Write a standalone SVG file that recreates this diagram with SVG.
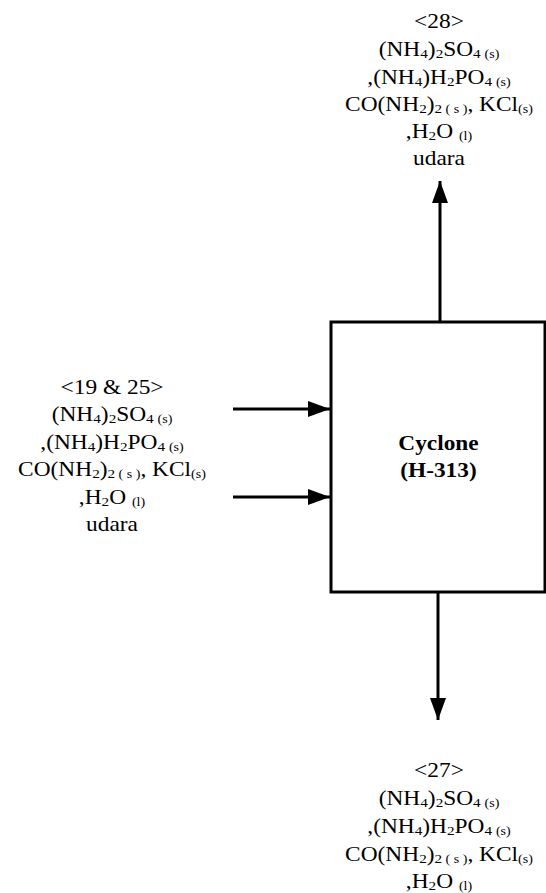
<svg xmlns="http://www.w3.org/2000/svg" width="546" height="893" viewBox="0 0 546 893">
<style>
text{font-family:'Liberation Serif','DejaVu Serif',serif;font-size:20px;fill:#000;text-anchor:middle}
.s{font-size:13px}
.p{font-size:12px}
.b{font-weight:bold;font-size:22px}
.ln{stroke:#000;stroke-width:3;fill:none}
</style>
<defs>
<marker id="ah" markerUnits="userSpaceOnUse" markerWidth="24" markerHeight="18" viewBox="0 0 24 18" refX="22" refY="9" orient="auto">
<path d="M0,1 L22,9 L0,17 Z" fill="#000"/>
</marker>
</defs>
<g id="connectors">
<line class="ln" x1="440" y1="321" x2="440" y2="181" marker-end="url(#ah)"/>
<line class="ln" x1="233" y1="409" x2="330" y2="409" marker-end="url(#ah)"/>
<line class="ln" x1="233" y1="497" x2="330" y2="497" marker-end="url(#ah)"/>
<line class="ln" x1="438" y1="593" x2="438" y2="720" marker-end="url(#ah)"/>
</g>
<g id="cyclone">
<rect x="331" y="322" width="214" height="270" fill="#fff" stroke="#000" stroke-width="3"/>
<g transform="translate(438.5,0) scale(1.06,1)">
<text class="b" x="0" y="450">Cyclone</text>
<text class="b" x="0" y="477">(H-313)</text>
</g>
</g>
<g id="stream28" transform="translate(439,0) scale(1.17,1)">
<text x="0" y="28">&lt;28&gt;</text>
<text x="0" y="56">(NH<tspan class="s" dy="2">4</tspan><tspan dy="-2">)</tspan><tspan class="s" dy="2">2</tspan><tspan dy="-2">SO</tspan><tspan class="s" dy="2">4 </tspan><tspan class="p">(s)</tspan></text>
<text x="0" y="84">,(NH<tspan class="s" dy="2">4</tspan><tspan dy="-2">)H</tspan><tspan class="s" dy="2">2</tspan><tspan dy="-2">PO</tspan><tspan class="s" dy="2">4 </tspan><tspan class="p">(s)</tspan></text>
<text x="0" y="111">CO(NH<tspan class="s" dy="2">2</tspan><tspan dy="-2">)</tspan><tspan class="s" dy="2">2</tspan><tspan class="p"> ( s )</tspan><tspan dy="-2">, KCl</tspan><tspan class="p" dy="2">(s)</tspan></text>
<text x="0" y="138">,H<tspan class="s" dy="2">2</tspan><tspan dy="-2">O </tspan><tspan class="p" dy="2">(l)</tspan></text>
<text x="0" y="165">udara</text>
</g>
<g id="stream19_25" transform="translate(112,0) scale(1.17,1)">
<text x="0" y="394">&lt;19 &amp; 25&gt;</text>
<text x="0" y="421.5">(NH<tspan class="s" dy="2">4</tspan><tspan dy="-2">)</tspan><tspan class="s" dy="2">2</tspan><tspan dy="-2">SO</tspan><tspan class="s" dy="2">4 </tspan><tspan class="p">(s)</tspan></text>
<text x="0" y="449">,(NH<tspan class="s" dy="2">4</tspan><tspan dy="-2">)H</tspan><tspan class="s" dy="2">2</tspan><tspan dy="-2">PO</tspan><tspan class="s" dy="2">4 </tspan><tspan class="p">(s)</tspan></text>
<text x="0" y="476.5">CO(NH<tspan class="s" dy="2">2</tspan><tspan dy="-2">)</tspan><tspan class="s" dy="2">2</tspan><tspan class="p"> ( s )</tspan><tspan dy="-2">, KCl</tspan><tspan class="p" dy="2">(s)</tspan></text>
<text x="0" y="504">,H<tspan class="s" dy="2">2</tspan><tspan dy="-2">O </tspan><tspan class="p" dy="2">(l)</tspan></text>
<text x="0" y="531.5">udara</text>
</g>
<g id="stream27" transform="translate(439,0) scale(1.17,1)">
<text x="0" y="777">&lt;27&gt;</text>
<text x="0" y="805">(NH<tspan class="s" dy="2">4</tspan><tspan dy="-2">)</tspan><tspan class="s" dy="2">2</tspan><tspan dy="-2">SO</tspan><tspan class="s" dy="2">4 </tspan><tspan class="p">(s)</tspan></text>
<text x="0" y="833">,(NH<tspan class="s" dy="2">4</tspan><tspan dy="-2">)H</tspan><tspan class="s" dy="2">2</tspan><tspan dy="-2">PO</tspan><tspan class="s" dy="2">4 </tspan><tspan class="p">(s)</tspan></text>
<text x="0" y="861">CO(NH<tspan class="s" dy="2">2</tspan><tspan dy="-2">)</tspan><tspan class="s" dy="2">2</tspan><tspan class="p"> ( s )</tspan><tspan dy="-2">, KCl</tspan><tspan class="p" dy="2">(s)</tspan></text>
<text x="0" y="888">,H<tspan class="s" dy="2">2</tspan><tspan dy="-2">O </tspan><tspan class="p" dy="2">(l)</tspan></text>
</g>
</svg>
